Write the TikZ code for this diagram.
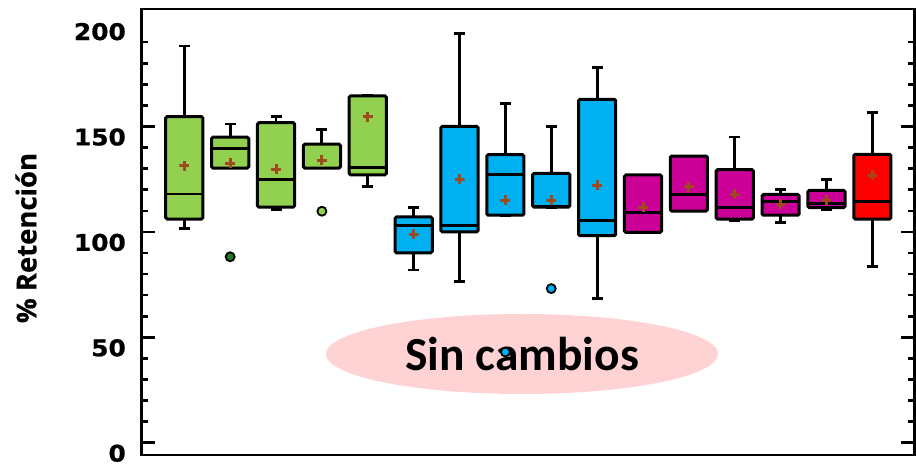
\documentclass[tikz,border=0pt]{standalone}
\usepackage{fontspec}
\usepackage{tikz}
\usepackage{xcolor}
\usetikzlibrary{shapes.geometric}
\newfontfamily\tickfont[FakeStretch=1.08,FakeBold=0.8]{DejaVu Sans}
\newfontfamily\labelfont[FakeBold=0.5]{Open Sans}
\newfontfamily\notefont{Carlito}

\begin{document}
\begin{tikzpicture}[x=1pt,y=1pt,
  boxbody/.style={draw=black,line width=3pt,rounded corners=1.5pt},
  whisk/.style={line width=2.9pt},
  axisline/.style={line width=2.6pt},
  meanplus/.style={inner sep=0pt,minimum size=10pt,
    path picture={\draw[meanbrown,line width=3pt]
      (path picture bounding box.north) -- (path picture bounding box.south)
      (path picture bounding box.west) -- (path picture bounding box.east);}},
  outlier/.style={circle,draw=black,line width=1.8pt,inner sep=0pt,minimum size=9pt},
  ticklabel/.style={anchor=east,inner sep=0pt,font=\tickfont\bfseries\fontsize{23}{26}\selectfont}]
\definecolor{greenbox}{HTML}{92D050}
\definecolor{bluebox}{HTML}{00B0F0}
\definecolor{magentabox}{HTML}{CC0099}
\definecolor{redbox}{HTML}{FF0000}
\definecolor{darkgreen}{HTML}{1E7A1E}
\definecolor{meanbrown}{HTML}{9E4A1C}
\definecolor{notepink}{HTML}{FFD3D3}
\useasboundingbox (0,0) rectangle (916,468);

% note behind the data
\node[ellipse,fill=notepink,minimum width=392,minimum height=80,inner sep=0pt,
  font=\notefont\bfseries\fontsize{47.5}{50}\selectfont] (note) at (522,114) {Sin cambios};

% frame
\draw[axisline] (141.7,13) rectangle (914.3,459);
\node[rotate=90,font=\labelfont\bfseries\fontsize{27.5}{30}\selectfont] (ylabel) at (26,230) {\% Retención};

\begin{scope}[shift={(0,25.3)},yscale=2.108]
  \foreach \v in {0,10,...,190}
  { \pgfmathsetmacro\tl{mod(\v,50)==0 ? 13 : 6}
    \draw[axisline] (141.7,\v) -- ++(\tl,0);
    \draw[axisline] (914.3,\v) -- ++(-\tl,0);}
  \foreach \v in {0,50,...,200}
  {  \node[ticklabel] (tick\v) at (126,\v-5) {\v};}

  % boxes: index/colour/whisker top/box top/median/box bottom/whisker bottom/mean
  \foreach \i/\clr/\wt/\bt/\md/\bb/\wb/\mn in {
    1/greenbox/188.2/154.7/118.0/106.1/101.7/131.3,
    2/greenbox/151.2/144.9/139.7/130.3/130.3/132.5,
    3/greenbox/154.8/151.8/125.0/111.7/110.7/129.7,
    4/greenbox/148.7/141.6/130.3/130.3/130.3/134.1,
    5/greenbox/164.5/164.5/130.5/127.0/121.4/154.6,
    6/bluebox/111.7/107.1/103.1/90.1/81.9/98.9,
    7/bluebox/194.2/150.1/103.1/100.0/76.4/125.0,
    8/bluebox/161.0/136.6/127.1/107.9/107.9/115.1,
    9/bluebox/150.1/127.8/112.3/111.7/111.7/115.1,
    10/bluebox/178.1/162.9/105.3/98.2/68.5/122.2,
    11/magentabox/127.0/127.0/109.1/99.8/99.8/111.7,
    12/magentabox/136.0/136.0/117.8/109.9/109.9/121.4,
    13/magentabox/145.0/129.5/111.5/106.1/105.3/117.8,
    14/magentabox/119.9/117.8/114.3/107.9/104.4/113.2,
    15/magentabox/124.9/119.7/113.6/111.5/110.7/115.1,
    16/redbox/156.5/136.8/114.3/106.1/83.5/126.9}
  { \pgfmathsetmacro\cx{184.3+45.87*(\i-1)}
    \draw[whisk] (\cx,\bt) -- (\cx,\wt) (\cx-5.5,\wt) -- (\cx+5.5,\wt);
    \draw[whisk] (\cx,\bb) -- (\cx,\wb) (\cx-5.5,\wb) -- (\cx+5.5,\wb);
    \draw[boxbody,fill=\clr] (\cx-18.6,\bb) rectangle (\cx+18.6,\bt);
    \draw[whisk] (\cx-18.6,\md) -- (\cx+18.6,\md);
    \node[meanplus] (mean\i) at (\cx,\mn) {};}

  % outliers
  \foreach \i/\val/\clr in {2/88.2/darkgreen,4/109.8/greenbox,8/43.0/bluebox,9/73.1/bluebox}
  { \pgfmathsetmacro\cx{184.3+45.87*(\i-1)}
    \node[outlier,fill=\clr] (out\i) at (\cx,\val) {};}
\end{scope}
\end{tikzpicture}
\end{document}
